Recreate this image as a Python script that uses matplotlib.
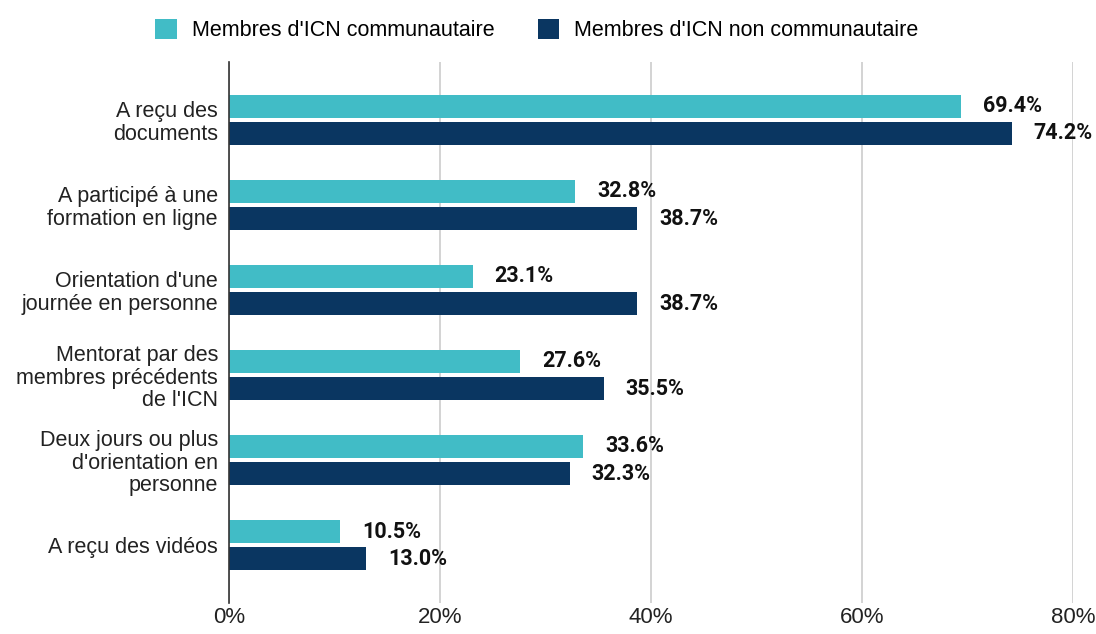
import matplotlib.pyplot as plt
import numpy as np

categories = [
    "A reçu des\ndocuments",
    "A participé à une\nformation en ligne",
    "Orientation d'une\njournée en personne",
    "Mentorat par des\nmembres précédents\nde l'ICN",
    "Deux jours ou plus\nd'orientation en\npersonne",
    "A reçu des vidéos",
]
communautaire = [69.4, 32.8, 23.1, 27.6, 33.6, 10.5]
non_communautaire = [74.2, 38.7, 38.7, 35.5, 32.3, 13.0]
series_names = ["Membres d'ICN communautaire", "Membres d'ICN non communautaire"]
x_ticks = [0, 20, 40, 60, 80]

teal = "#41BCC6"
navy = "#0A3661"

plt.rcParams['font.family'] = ['Liberation Sans', 'DejaVu Sans']

fig = plt.figure(figsize=(10.96, 6.34), dpi=100)
ax = fig.add_axes([229 / 1096, 1 - 603 / 634, (1073 - 229) / 1096, (603 - 62) / 634])

y = np.arange(len(categories))
h = 0.27
gap = 0.05
b1 = ax.barh(y - (h + gap) / 2, communautaire, height=h, color=teal, label=series_names[0], zorder=3)
b2 = ax.barh(y + (h + gap) / 2, non_communautaire, height=h, color=navy, label=series_names[1], zorder=3)

for bars, vals in [(b1, communautaire), (b2, non_communautaire)]:
    for bar, v in zip(bars, vals):
        ax.annotate(f"{v:.1f}%", (v, bar.get_y() + bar.get_height() / 2),
                    xytext=(22, 0), textcoords="offset pixels",
                    va="center", ha="left", fontsize=15.5, fontweight="bold",
                    family="Roboto", color="#111111", annotation_clip=False)

ax.set_ylim(len(categories) - 1 + 0.68, -0.68)
ax.set_xlim(0, 80)
ax.set_yticks(y)
ax.set_yticklabels(categories, fontsize=15.5, color="#222222", linespacing=1.08)
ax.set_xticks(x_ticks)
ax.set_xticklabels([f"{t}%" for t in x_ticks], fontsize=16, color="#222222")
ax.tick_params(axis="both", length=0)
ax.tick_params(axis="y", pad=8)
ax.tick_params(axis="x", pad=3)

ax.grid(axis="x", color="#cccccc", linewidth=1.2, zorder=0)
for s in ["top", "right", "bottom"]:
    ax.spines[s].set_visible(False)
ax.spines["left"].set_color("#333333")
ax.spines["left"].set_linewidth(1.2)
ax.spines["left"].set_zorder(4)

fig.legend(loc="upper center", bbox_to_anchor=(0.49, 1.0), ncol=2, frameon=False,
           fontsize=15.5, handlelength=1.0, handleheight=1.0, columnspacing=2.0, handletextpad=0.7)

fig.savefig("out.png", dpi=100)
